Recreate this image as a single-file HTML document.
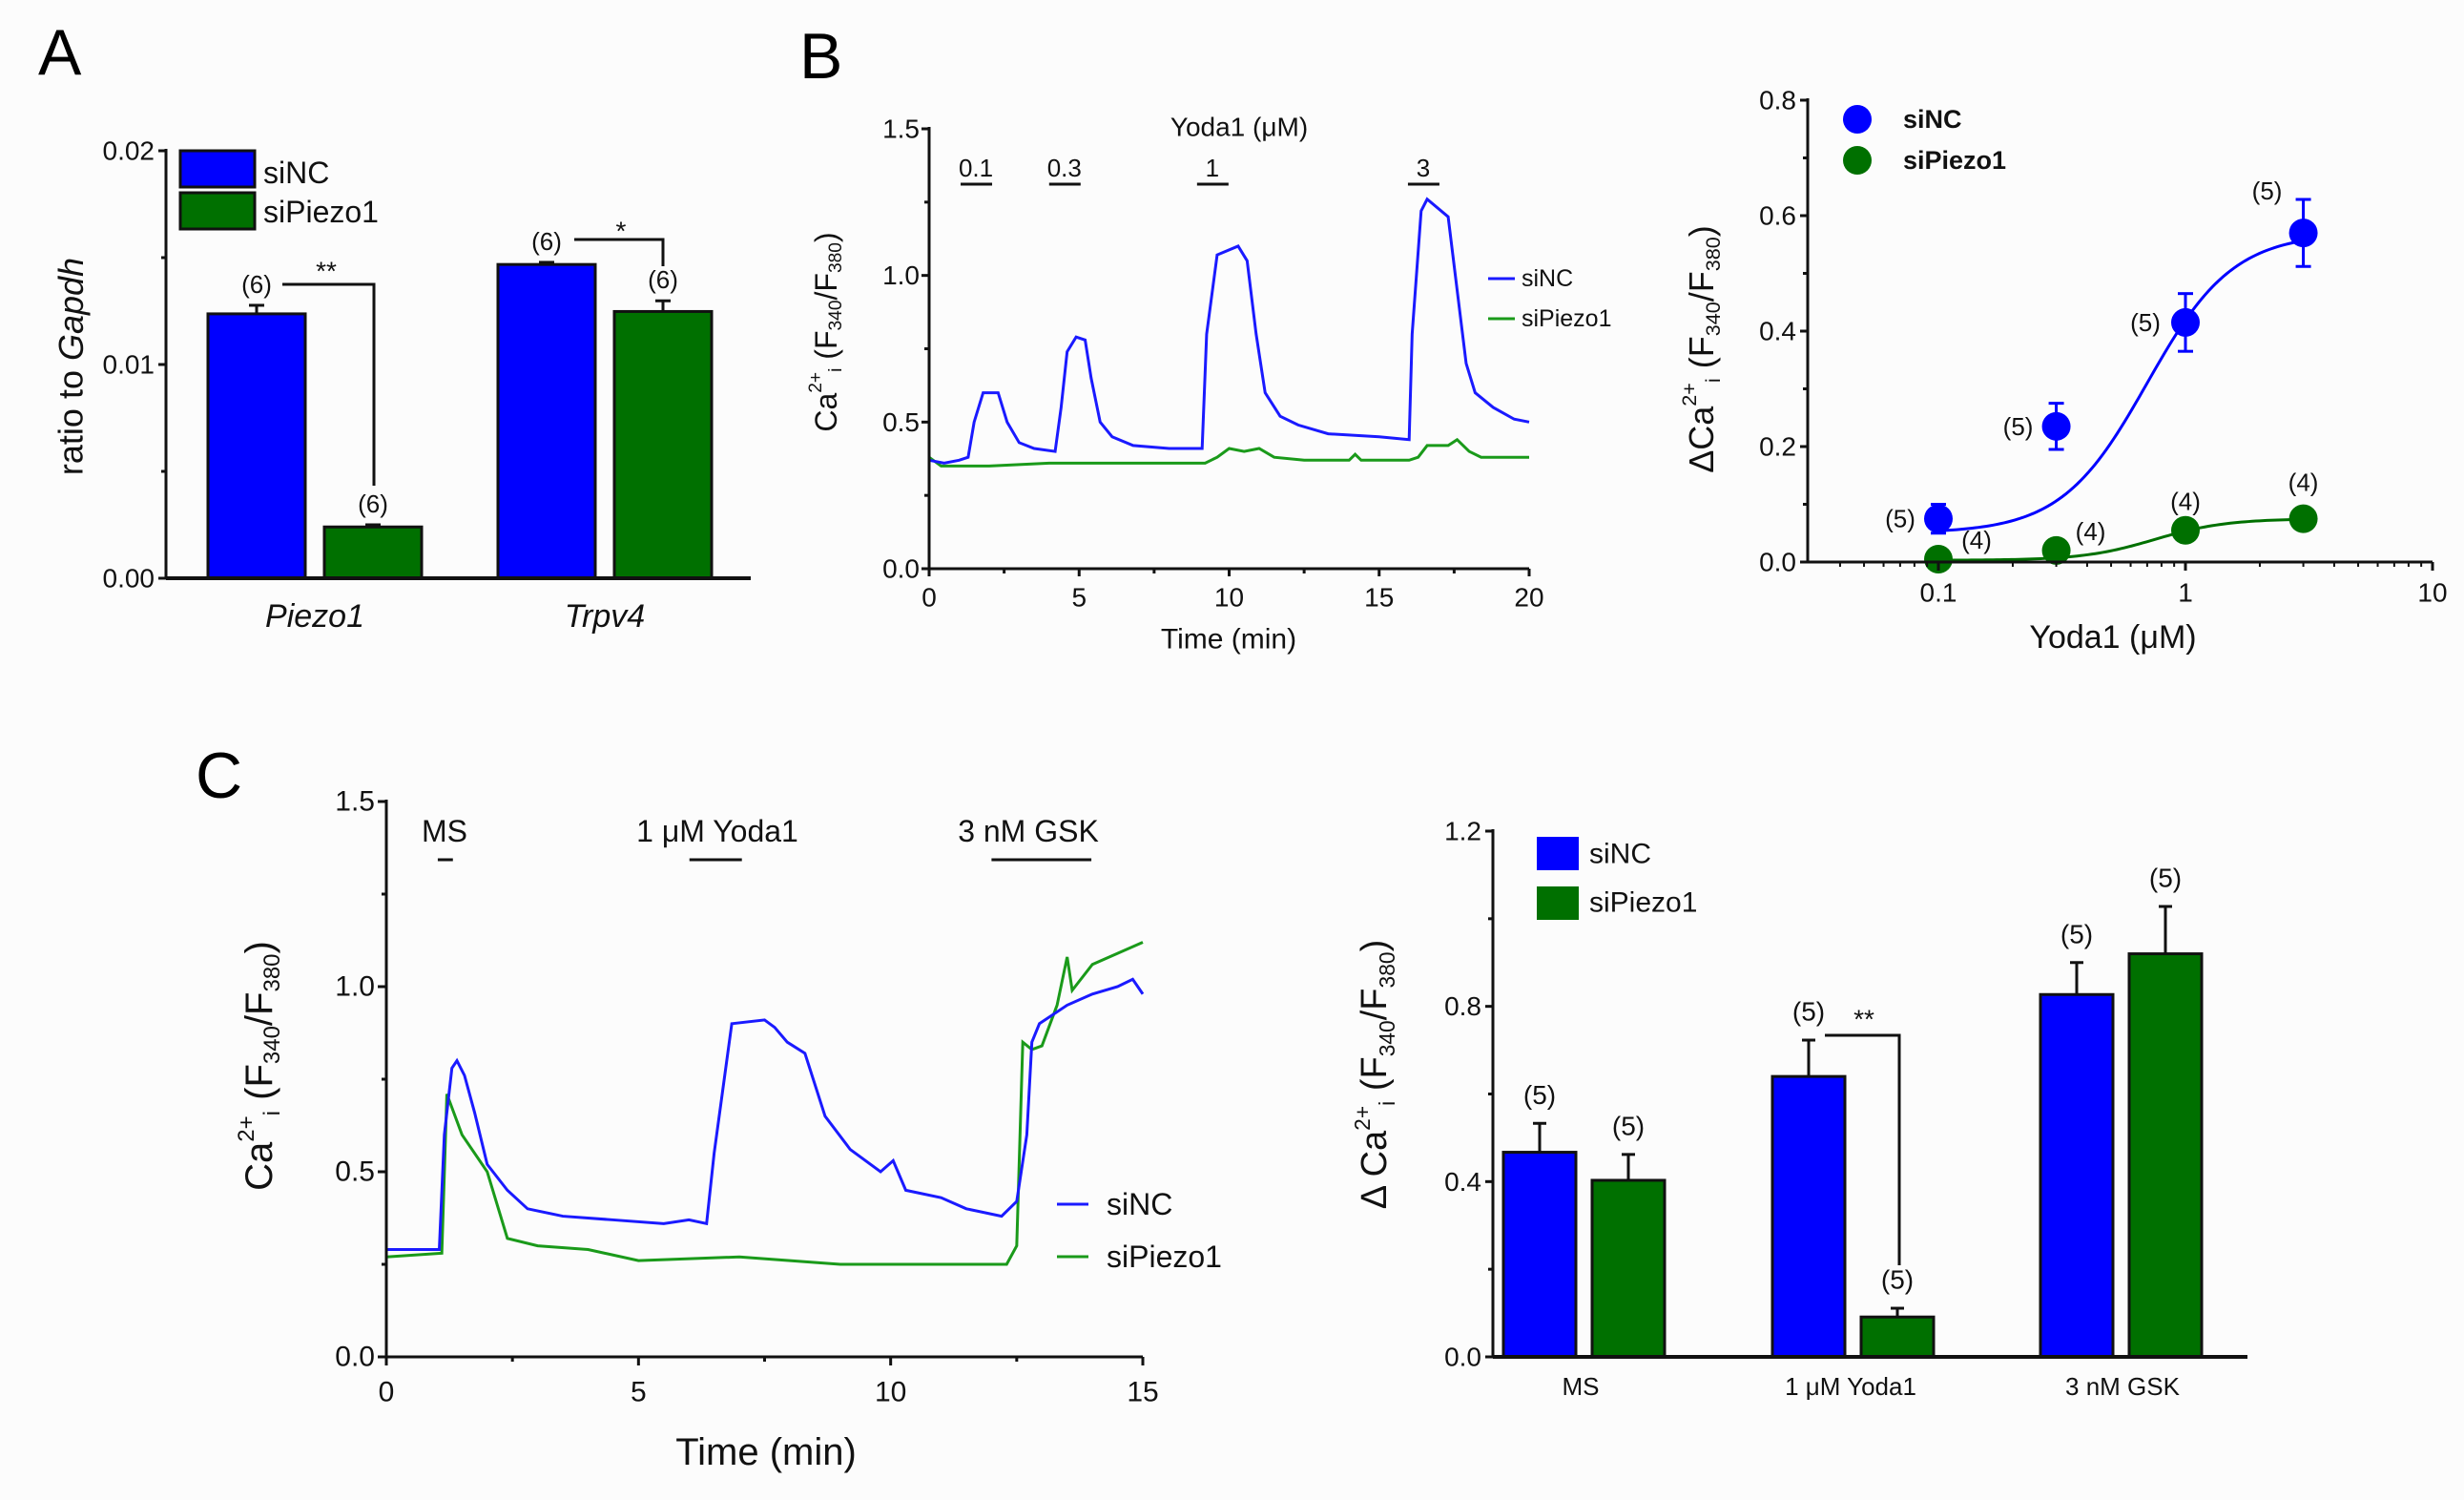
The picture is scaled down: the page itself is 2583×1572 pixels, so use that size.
<!DOCTYPE html>
<html><head><meta charset="utf-8"><style>
html,body{margin:0;padding:0;background:#fcfcfc;}
svg{display:block;font-family:"Liberation Sans",Arial,sans-serif;}
</style></head><body>
<svg id="fig" width="2583" height="1572" viewBox="0 0 2583 1572" xmlns="http://www.w3.org/2000/svg">
<rect width="2583" height="1572" fill="#fcfcfc"/>
<text x="40" y="78" font-size="68">A</text>
<text x="838" y="82" font-size="68">B</text>
<text x="205" y="836" font-size="68">C</text>
</svg>
<script>
// ---------- DATA ----------
const catA = ['Piezo1','Trpv4'];
const aSiNC = [0.01237, 0.01468];
const aSiNCErr = [0.0004, 0.0001];
const aSiP = [0.0024, 0.01248];
const aSiPErr = [0.0001, 0.0005];
const aTicks = ['0.00','0.01','0.02'];

const bTraceNC = [[0,0.37],[0.5,0.36],[1.0,0.37],[1.3,0.38],[1.5,0.50],[1.8,0.60],[2.3,0.60],[2.6,0.50],[3.0,0.43],[3.5,0.41],[4.2,0.40],[4.4,0.55],[4.6,0.74],[4.9,0.79],[5.2,0.78],[5.4,0.65],[5.7,0.50],[6.1,0.45],[6.8,0.42],[8.0,0.41],[9.1,0.41],[9.25,0.80],[9.6,1.07],[10.3,1.10],[10.6,1.05],[10.9,0.80],[11.2,0.60],[11.7,0.52],[12.3,0.49],[13.3,0.46],[15.0,0.45],[16.0,0.44],[16.1,0.80],[16.4,1.22],[16.6,1.26],[17.3,1.20],[17.6,0.95],[17.9,0.70],[18.2,0.60],[18.8,0.55],[19.5,0.51],[20,0.50]];
const bTraceP = [[0,0.38],[0.4,0.35],[2,0.35],[4,0.36],[6,0.36],[8,0.36],[9.2,0.36],[9.6,0.38],[10.0,0.41],[10.5,0.40],[11.0,0.41],[11.5,0.38],[12.5,0.37],[14.0,0.37],[14.2,0.39],[14.4,0.37],[16.0,0.37],[16.3,0.38],[16.6,0.42],[17.3,0.42],[17.6,0.44],[18.0,0.40],[18.4,0.38],[20,0.38]];
const bConc = [0.1,0.3,1,3];
const bConcLabels = ['0.1','0.3','1','3'];
const bConcStart = [1.05,4.0,8.93,15.96];
const bYTicks = ['0.0','0.5','1.0','1.5'];
const bXTicks = ['0','5','10','15','20'];

const dConc = [0.1,0.3,1,3];
const dNC = [0.075,0.235,0.415,0.57];
const dNCErr = [0.025,0.04,0.05,0.058];
const dP = [0.005,0.02,0.055,0.075];
const dPErr = [0.004,0.004,0.006,0.006];
const dNCn = ['(5)','(5)','(5)','(5)'];
const dPn = ['(4)','(4)','(4)','(4)'];
const dFitNC = [0.05,0.57,0.7,2.5];   // bottom, top, EC50, hill
const dFitP = [0.003,0.075,0.75,3];
const dYTicks = ['0.0','0.2','0.4','0.6','0.8'];
const dXTicks = ['0.1','1','10'];

const cTraceNC = [[0,0.29],[1.05,0.29],[1.15,0.60],[1.3,0.78],[1.4,0.80],[1.55,0.76],[1.75,0.66],[2.0,0.52],[2.4,0.45],[2.8,0.40],[3.5,0.38],[4.5,0.37],[5.5,0.36],[6.0,0.37],[6.35,0.36],[6.5,0.55],[6.85,0.90],[7.5,0.91],[7.7,0.89],[7.95,0.85],[8.3,0.82],[8.7,0.65],[9.2,0.56],[9.8,0.50],[10.05,0.53],[10.3,0.45],[11.0,0.43],[11.5,0.40],[12.2,0.38],[12.5,0.42],[12.7,0.60],[12.8,0.85],[12.95,0.90],[13.5,0.95],[14.0,0.98],[14.5,1.00],[14.8,1.02],[15,0.98]];
const cTraceP = [[0,0.27],[1.1,0.28],[1.2,0.71],[1.5,0.60],[2.0,0.50],[2.4,0.32],[3.0,0.30],[4.0,0.29],[5.0,0.26],[7.0,0.27],[8.0,0.26],[9.0,0.25],[11.0,0.25],[12.3,0.25],[12.5,0.30],[12.62,0.85],[12.8,0.83],[13.0,0.84],[13.3,0.95],[13.5,1.08],[13.6,0.99],[14.0,1.06],[14.5,1.09],[15,1.12]];
const cStimLabels = ['MS','1 μM Yoda1','3 nM GSK'];
const cStimStart = [1.02,6.01,12.0];
const cStimEnd = [1.32,7.05,13.98];
const cYTicks = ['0.0','0.5','1.0','1.5'];
const cXTicks = ['0','5','10','15'];

const eCats = ['MS','1 μM Yoda1','3 nM GSK'];
const eNC = [0.467,0.64,0.827];
const eNCErr = [0.066,0.083,0.073];
const eP = [0.403,0.091,0.92];
const ePErr = [0.059,0.02,0.108];
const eTicks = ['0.0','0.4','0.8','1.2'];

// ---------- HELPERS ----------
const NS='http://www.w3.org/2000/svg';
const svg=document.getElementById('fig');
const BLUE='#0000ff', GREEN='#007000', LBLUE='#1a1aff', LGREEN='#1a9a1a';
function mk(tag, attrs, name, parent){
  const el=document.createElementNS(NS,tag);
  for(const k in attrs) el.setAttribute(k,attrs[k]);
  
  
  (parent||svg).appendChild(el);
  return el;
}
function line(x1,y1,x2,y2,name,w,c){return mk('line',{x1,y1,x2,y2,stroke:c||'#111','stroke-width':w||3},name);}
function text(x,y,s,size,name,anchor,extra){
  const t=mk('text',Object.assign({x,y,'font-size':size,'text-anchor':anchor||'middle','dominant-baseline':'central',fill:'#111'},extra||{}),name);
  t.textContent=s;return t;
}
function caLabel(x,y,size,prefix,name){
  const g=mk('g',{transform:`translate(${x},${y}) rotate(-90)`},name);
  const t=mk('text',{x:0,y:0,'font-size':size,'text-anchor':'middle','dominant-baseline':'central',fill:'#111'},'y-axis-title-text',g);
  const parts=[[prefix+'Ca',0],['2+',1],['i',-1],[' (F',0],['340',-1],['/F',0],['380',-1],[')',0]];
  parts.forEach(p=>{
    const s=document.createElementNS(NS,'tspan');
    
    
    s.textContent=p[0];
    if(p[1]!==0){s.setAttribute('font-size',size*0.6);s.setAttribute('baseline-shift',p[1]>0?'super':'sub');}
    t.appendChild(s);
  });
}

// ---------- PANEL A ----------
(function(){
  const x0=174,x1=787,y0=606,yTop=158;
  const yA=v=>y0-v*(y0-yTop)/0.02;
  const groupX=[218,522], bw=102, gap=20;
  for(let i=0;i<catA.length;i++){
    const xb=groupX[i], xg=groupX[i]+bw+gap;
    line(xb+bw/2,yA(aSiNC[i]),xb+bw/2,yA(aSiNC[i]+aSiNCErr[i]),'error-bar-a-sinc',3);
    line(xb+bw/2-8,yA(aSiNC[i]+aSiNCErr[i]),xb+bw/2+8,yA(aSiNC[i]+aSiNCErr[i]),'error-cap-a-sinc',3);
    mk('rect',{x:xb,y:yA(aSiNC[i]),width:bw,height:y0-yA(aSiNC[i]),fill:BLUE,stroke:'#111','stroke-width':3},'bar-a-sinc-'+catA[i].toLowerCase());
    line(xg+bw/2,yA(aSiP[i]),xg+bw/2,yA(aSiP[i]+aSiPErr[i]),'error-bar-a-sipiezo1',3);
    line(xg+bw/2-8,yA(aSiP[i]+aSiPErr[i]),xg+bw/2+8,yA(aSiP[i]+aSiPErr[i]),'error-cap-a-sipiezo1',3);
    mk('rect',{x:xg,y:yA(aSiP[i]),width:bw,height:y0-yA(aSiP[i]),fill:GREEN,stroke:'#111','stroke-width':3},'bar-a-sipiezo1-'+catA[i].toLowerCase());
    text(xb+bw/2,yA(aSiNC[i]+aSiNCErr[i])-22,'(6)',26,'n-label');
    text(xg+bw/2,yA(aSiP[i]+aSiPErr[i])-22,'(6)',26,'n-label');
    text(xb+bw+gap/2,646,catA[i],34,'x-category-label','middle',{'font-style':'italic'});
  }
  line(x0,yTop-2,x0,y0,'a-y-axis',3);
  line(x0,y0,x1,y0,'a-x-axis',4);
  for(let i=0;i<aTicks.length;i++){
    const v=i*0.01;
    line(x0-8,yA(v),x0,yA(v),'a-y-tick',3);
    text(x0-12,yA(v),aTicks[i],28,'a-y-tick-label','end');
  }
  [0.005,0.015].forEach(v=>line(x0-5,yA(v),x0,yA(v),'a-y-minor-tick',3));
  const g=mk('g',{transform:'translate(74,384) rotate(-90)'},'a-y-axis-title');
  const t=mk('text',{x:0,y:0,'font-size':36,'text-anchor':'middle','dominant-baseline':'central',fill:'#111'},'a-y-axis-title-text',g);
  t.textContent='ratio to ';
  const s=document.createElementNS(NS,'tspan');
  
  
  s.setAttribute('font-style','italic');s.textContent='Gapdh';t.appendChild(s);
  mk('polyline',{points:'296,298 392,298 392,509',fill:'none',stroke:'#111','stroke-width':3},'significance-bracket-piezo1');
  text(342,284,'**',28,'significance-stars');
  mk('polyline',{points:'602,251 695,251 695,279',fill:'none',stroke:'#111','stroke-width':3},'significance-bracket-trpv4');
  text(651,242,'*',28,'significance-star');
  mk('rect',{x:189,y:158,width:78,height:38,fill:BLUE,stroke:'#111','stroke-width':3},'legend-swatch-sinc');
  mk('rect',{x:189,y:202,width:78,height:38,fill:GREEN,stroke:'#111','stroke-width':3},'legend-swatch-sipiezo1');
  text(276,181,'siNC',32,'legend-label-sinc','start');
  text(276,222,'siPiezo1',32,'legend-label-sipiezo1','start');
})();

// ---------- PANEL B TRACE ----------
(function(){
  const x0=974,x1=1603,y0=596,yTop=135;
  const xB=t=>x0+t*(x1-x0)/20, yB=v=>y0-v*(y0-yTop)/1.5;
  mk('polyline',{points:bTraceP.map(p=>xB(p[0])+','+yB(p[1])).join(' '),fill:'none',stroke:LGREEN,'stroke-width':3},'trace-b-sipiezo1');
  mk('polyline',{points:bTraceNC.map(p=>xB(p[0])+','+yB(p[1])).join(' '),fill:'none',stroke:LBLUE,'stroke-width':3},'trace-b-sinc');
  line(x0,yTop-2,x0,y0,'b-y-axis',3);
  line(x0,y0,x1,y0,'b-x-axis',3);
  for(let i=0;i<bYTicks.length;i++){const v=i*0.5;line(x0-8,yB(v),x0,yB(v),'b-y-tick',3);text(x0-10,yB(v),bYTicks[i],28,'b-y-tick-label','end');}
  [0.25,0.75,1.25].forEach(v=>line(x0-5,yB(v),x0,yB(v),'b-y-minor-tick',3));
  for(let i=0;i<bXTicks.length;i++){const t=i*5;line(xB(t),y0,xB(t),y0+8,'b-x-tick',3);text(xB(t),y0+30,bXTicks[i],28,'b-x-tick-label');}
  [2.5,7.5,12.5,17.5].forEach(t=>line(xB(t),y0,xB(t),y0+5,'b-x-minor-tick',3));
  text(1288,670,'Time (min)',30,'b-x-axis-title');
  caLabel(866,348,32,'','b-y-axis-title');
  text(1299,133,'Yoda1 (μM)',28,'b-stimulus-title');
  for(let i=0;i<bConc.length;i++){
    const xs=xB(bConcStart[i]);
    line(xs,193,xs+33,193,'b-stimulus-bar',3);
    text(xs+16,176,bConcLabels[i],26,'b-stimulus-label');
  }
  line(1560,292,1588,292,'legend-line-sinc',3,LBLUE);
  line(1560,334,1588,334,'legend-line-sipiezo1',3,LGREEN);
  text(1595,292,'siNC',25,'legend-label-sinc','start');
  text(1595,334,'siPiezo1',25,'legend-label-sipiezo1','start');
})();

// ---------- PANEL B DOSE RESPONSE ----------
(function(){
  const x0=1895,xEnd=2550,y0=589,yTop=105;
  const xD=c=>2032+(Math.log10(c)+1)*259, yD=v=>y0-v*(y0-yTop)/0.8;
  function fit(f,c){return f[0]+(f[1]-f[0])/(1+Math.pow(f[2]/c,f[3]));}
  function curve(f,col,name){
    const pts=[];for(let k=0;k<=100;k++){const c=Math.pow(10,-1+k*Math.log10(30)/100);pts.push(xD(c)+','+yD(fit(f,c)));}
    mk('polyline',{points:pts.join(' '),fill:'none',stroke:col,'stroke-width':3},name);
  }
  curve(dFitNC,BLUE,'fit-curve-sinc');
  curve(dFitP,GREEN,'fit-curve-sipiezo1');
  for(let i=0;i<dConc.length;i++){
    const x=xD(dConc[i]);
    line(x,yD(dNC[i]-dNCErr[i]),x,yD(dNC[i]+dNCErr[i]),'dose-error-sinc',3,BLUE);
    line(x-8,yD(dNC[i]+dNCErr[i]),x+8,yD(dNC[i]+dNCErr[i]),'dose-error-cap',3,BLUE);
    line(x-8,yD(dNC[i]-dNCErr[i]),x+8,yD(dNC[i]-dNCErr[i]),'dose-error-cap',3,BLUE);
    mk('ellipse',{cx:x,cy:yD(dNC[i]),rx:15,ry:15,fill:BLUE},'dose-point-sinc');
    mk('ellipse',{cx:x,cy:yD(dP[i]),rx:15,ry:15,fill:GREEN},'dose-point-sipiezo1');
  }
  const ncOff=[[-40,0],[-40,0],[-42,0],[-38,-44]];
  const pOff=[[40,-20],[36,-20],[0,-30],[0,-38]];
  for(let i=0;i<dConc.length;i++){
    text(xD(dConc[i])+ncOff[i][0],yD(dNC[i])+ncOff[i][1],dNCn[i],26,'n-label-sinc');
    text(xD(dConc[i])+pOff[i][0],yD(dP[i])+pOff[i][1],dPn[i],26,'n-label-sipiezo1');
  }
  line(x0,yTop-2,x0,y0,'dose-y-axis',3);
  line(x0,y0,xEnd,y0,'dose-x-axis',3);
  for(let i=0;i<dYTicks.length;i++){const v=i*0.2;line(x0-8,yD(v),x0,yD(v),'dose-y-tick',3);text(x0-12,yD(v),dYTicks[i],28,'dose-y-tick-label','end');}
  [0.1,0.3,0.5,0.7].forEach(v=>line(x0-5,yD(v),x0,yD(v),'dose-y-minor-tick',3));
  for(let i=0;i<dXTicks.length;i++){const c=Math.pow(10,i-1);line(xD(c),y0,xD(c),y0+9,'dose-x-tick',3);text(xD(c),621,dXTicks[i],28,'dose-x-tick-label');}
  [0.04,0.05,0.06,0.07,0.08,0.09,0.2,0.3,0.4,0.5,0.6,0.7,0.8,0.9,2,3,4,5,6,7,8,9].forEach(c=>line(xD(c),y0,xD(c),y0+5,'dose-x-minor-tick',2));
  text(2215,668,'Yoda1 (μM)',34,'dose-x-axis-title');
  caLabel(1783,366,36,'Δ','dose-y-axis-title');
  mk('ellipse',{cx:1947,cy:125,rx:15,ry:15,fill:BLUE},'legend-marker-sinc');
  mk('ellipse',{cx:1947,cy:168,rx:15,ry:15,fill:GREEN},'legend-marker-sipiezo1');
  text(1995,125,'siNC',27,'legend-label-sinc','start',{'font-weight':'bold'});
  text(1995,168,'siPiezo1',27,'legend-label-sipiezo1','start',{'font-weight':'bold'});
})();

// ---------- PANEL C TRACE ----------
(function(){
  const x0=405,x1=1198,y0=1422,yTop=840;
  const xC=t=>x0+t*(x1-x0)/15, yC=v=>y0-v*(y0-yTop)/1.5;
  mk('polyline',{points:cTraceP.map(p=>xC(p[0])+','+yC(p[1])).join(' '),fill:'none',stroke:LGREEN,'stroke-width':3},'trace-c-sipiezo1');
  mk('polyline',{points:cTraceNC.map(p=>xC(p[0])+','+yC(p[1])).join(' '),fill:'none',stroke:LBLUE,'stroke-width':3},'trace-c-sinc');
  line(x0,yTop-2,x0,y0,'c-y-axis',3);
  line(x0,y0,x1,y0,'c-x-axis',3);
  for(let i=0;i<cYTicks.length;i++){const v=i*0.5;line(x0-9,yC(v),x0,yC(v),'c-y-tick',3);text(x0-12,yC(v),cYTicks[i],30,'c-y-tick-label','end');}
  [0.25,0.75,1.25].forEach(v=>line(x0-5,yC(v),x0,yC(v),'c-y-minor-tick',3));
  for(let i=0;i<cXTicks.length;i++){const t=i*5;line(xC(t),y0,xC(t),y0+9,'c-x-tick',3);text(xC(t),1459,cXTicks[i],30,'c-x-tick-label');}
  [2.5,7.5,12.5].forEach(t=>line(xC(t),y0,xC(t),y0+5,'c-x-minor-tick',3));
  text(803,1522,'Time (min)',40,'c-x-axis-title');
  caLabel(272,1117,40,'','c-y-axis-title');
  const lblX=[466,752,1078];
  for(let i=0;i<cStimLabels.length;i++){
    line(xC(cStimStart[i]),901,xC(cStimEnd[i]),901,'c-stimulus-bar',3);
    text(lblX[i],871,cStimLabels[i],32,'c-stimulus-label');
  }
  line(1108,1262,1141,1262,'legend-line-sinc',3,LBLUE);
  line(1108,1317,1141,1317,'legend-line-sipiezo1',3,LGREEN);
  text(1160,1262,'siNC',32,'legend-label-sinc','start');
  text(1160,1317,'siPiezo1',32,'legend-label-sipiezo1','start');
})();

// ---------- PANEL C BARS ----------
(function(){
  const x0=1565,x1=2356,y0=1422,yTop=871;
  const yE=v=>y0-v*(y0-yTop)/1.2;
  const gx=[1576,1858,2139], bw=76, gap=17;
  const labelX=[1657,1940,2225];
  for(let i=0;i<eCats.length;i++){
    const xb=gx[i], xg=gx[i]+bw+gap;
    line(xb+bw/2,yE(eNC[i]),xb+bw/2,yE(eNC[i]+eNCErr[i]),'error-bar-sinc',3);
    line(xb+bw/2-7,yE(eNC[i]+eNCErr[i]),xb+bw/2+7,yE(eNC[i]+eNCErr[i]),'error-cap-sinc',3);
    mk('rect',{x:xb,y:yE(eNC[i]),width:bw,height:y0-yE(eNC[i]),fill:BLUE,stroke:'#111','stroke-width':3},'bar-sinc-'+i);
    line(xg+bw/2,yE(eP[i]),xg+bw/2,yE(eP[i]+ePErr[i]),'error-bar-sipiezo1',3);
    line(xg+bw/2-7,yE(eP[i]+ePErr[i]),xg+bw/2+7,yE(eP[i]+ePErr[i]),'error-cap-sipiezo1',3);
    mk('rect',{x:xg,y:yE(eP[i]),width:bw,height:y0-yE(eP[i]),fill:GREEN,stroke:'#111','stroke-width':3},'bar-sipiezo1-'+i);
    text(xb+bw/2,yE(eNC[i]+eNCErr[i])-30,'(5)',28,'n-label');
    text(xg+bw/2,yE(eP[i]+ePErr[i])-30,'(5)',28,'n-label');
    text(labelX[i],1453,eCats[i],26,'x-category-label');
  }
  line(x0,yTop-2,x0,y0,'e-y-axis',3);
  line(x0,y0,x1,y0,'e-x-axis',4);
  for(let i=0;i<eTicks.length;i++){const v=i*0.4;line(x0-8,yE(v),x0,yE(v),'e-y-tick',3);text(x0-12,yE(v),eTicks[i],28,'e-y-tick-label','end');}
  [0.2,0.6,1.0].forEach(v=>line(x0-5,yE(v),x0,yE(v),'e-y-minor-tick',3));
  caLabel(1441,1126,38,'Δ ','e-y-axis-title');
  mk('polyline',{points:'1913,1085 1991,1085 1991,1326',fill:'none',stroke:'#111','stroke-width':3},'significance-bracket-yoda1');
  text(1954,1068,'**',28,'significance-stars');
  mk('rect',{x:1611,y:877,width:44,height:35,fill:BLUE},'legend-swatch-sinc');
  mk('rect',{x:1611,y:929,width:44,height:35,fill:GREEN},'legend-swatch-sipiezo1');
  text(1666,895,'siNC',30,'legend-label-sinc','start');
  text(1666,946,'siPiezo1',30,'legend-label-sipiezo1','start');
})();
</script>
</body></html>
